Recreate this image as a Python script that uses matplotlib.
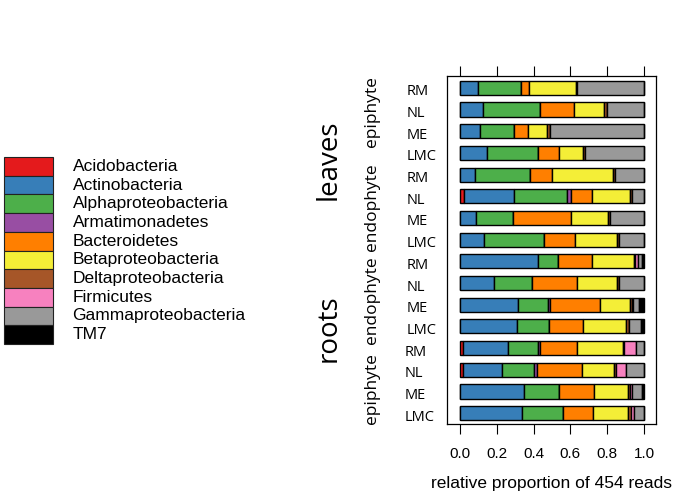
import numpy as np
import matplotlib
matplotlib.use('agg')
import matplotlib.pyplot as plt
from matplotlib.patches import Rectangle
import matplotlib.transforms as mtransforms

## data (rows listed top to bottom)
taxa = ["Acidobacteria", "Actinobacteria", "Alphaproteobacteria", "Armatimonadetes",
        "Bacteroidetes", "Betaproteobacteria", "Deltaproteobacteria", "Firmicutes",
        "Gammaproteobacteria", "TM7"]
colors = ["#E41A1C", "#377EB8", "#4DAF4A", "#984EA3", "#FF7F00",
          "#F4EE37", "#A65628", "#F781BF", "#999999", "#000000"]
sites = ["RM", "NL", "ME", "LMC"] * 4
groups = ["epiphyte", "endophyte", "endophyte", "epiphyte"]
tissues = ["leaves", "roots"]

acido  = [0, 0, 0, 0,   0, 0.022, 0, 0,   0, 0, 0, 0,   0.018, 0.018, 0, 0]
actino = [0.100, 0.127, 0.109, 0.145,   0.083, 0.271, 0.087, 0.132,
          0.426, 0.187, 0.317, 0.308,   0.245, 0.212, 0.350, 0.335]
alpha  = [0.233, 0.308, 0.186, 0.277,   0.299, 0.290, 0.199, 0.325,
          0.108, 0.204, 0.163, 0.174,   0.159, 0.174, 0.188, 0.227]
armati = [0, 0, 0, 0,   0, 0.018, 0, 0,   0, 0, 0.009, 0,   0.013, 0.013, 0, 0]
bacter = [0.044, 0.185, 0.075, 0.114,   0.118, 0.116, 0.317, 0.168,
          0.182, 0.243, 0.272, 0.185,   0.199, 0.244, 0.190, 0.163]
beta   = [0.255, 0.163, 0.105, 0.134,   0.333, 0.207, 0.199, 0.230,
          0.231, 0.217, 0.163, 0.235,   0.250, 0.178, 0.187, 0.190]
delta  = [0.005, 0.017, 0.012, 0.010,   0.011, 0.011, 0.013, 0.011,
          0.006, 0.015, 0.009, 0.018,   0.006, 0.011, 0.009, 0.012]
firmi  = [0, 0, 0, 0,   0, 0, 0, 0,   0.012, 0, 0.009, 0,   0.065, 0.052, 0.009, 0.019]
gamma  = [0.363, 0.200, 0.513, 0.320,   0.156, 0.065, 0.185, 0.134,
          0.025, 0.134, 0.033, 0.064,   0.045, 0.098, 0.054, 0.054]
tm7    = [0, 0, 0, 0,   0, 0, 0, 0,   0.010, 0, 0.025, 0.016,   0, 0, 0.013, 0]

props = np.array([acido, actino, alpha, armati, bacter, beta, delta, firmi, gamma, tm7])

W, H = 677, 497
fig = plt.figure(figsize=(W / 100, H / 100), dpi=100)

sans = "Liberation Sans"
humanist = "Open Sans"

# main bar panel
ax = fig.add_axes([447 / W, 1 - 424 / H, (656 - 447) / W, (424 - 75.5) / H])
n = props.shape[1]
ypos = np.arange(n)[::-1]
left = np.zeros(n)
for vals, c in zip(props, colors):
    ax.barh(ypos, vals, left=left, height=0.65, color=c, edgecolor="black", linewidth=1.0)
    left += vals

ax.set_xlim(-0.0707, 1.065)
ax.set_ylim(-0.5, n - 0.43)
ax.set_xticks(np.arange(0, 1.01, 0.2))
ax.set_xticklabels(["0.0", "0.2", "0.4", "0.6", "0.8", "1.0"], fontfamily=sans, fontsize=11)
ax.tick_params(axis="x", length=7, width=0.8, pad=9.5, top=True, labeltop=False)
ax.set_yticks([])
for s in ax.spines.values():
    s.set_linewidth(0.9)
ax.set_xlabel("relative proportion of 454 reads", fontfamily=sans, fontsize=12.5, labelpad=11)

# row labels
trans = mtransforms.blended_transform_factory(fig.transFigure, ax.transData)
shift = mtransforms.ScaledTranslation(0, -4 / 100, fig.dpi_scale_trans)
for i, (lab, y) in enumerate(zip(sites, ypos)):
    x = 405 if i >= 12 else 407
    ax.text(x / W, y, lab, transform=trans + shift, ha="left", va="center",
            fontfamily=humanist, fontsize=10.5, clip_on=False)

# group labels
for g, yc in zip(groups, [112, 207, 300, 389]):
    fig.text(372 / W, 1 - yc / H, g, rotation=90, ha="center", va="center",
             fontfamily=humanist, fontsize=12.5)
for t, yc in zip(tissues, [160, 328]):
    fig.text(329 / W, 1 - yc / H, t, rotation=90, ha="center", va="center",
             fontfamily=humanist, fontsize=20)

# legend
lax = fig.add_axes([0, 0, 1, 1])
lax.set_xlim(0, W)
lax.set_ylim(H, 0)
lax.axis("off")
box_h = 18.7
top = 157
for i, (name, c) in enumerate(zip(taxa, colors)):
    y0 = top + i * box_h
    lax.add_patch(Rectangle((3.5, y0), 49, box_h, facecolor=c, edgecolor="#222222", linewidth=0.8))
    lax.text(72.5, y0 + box_h / 2, name, ha="left", va="center", fontfamily=sans, fontsize=12.5)

fig.savefig("out.png", dpi=100)
